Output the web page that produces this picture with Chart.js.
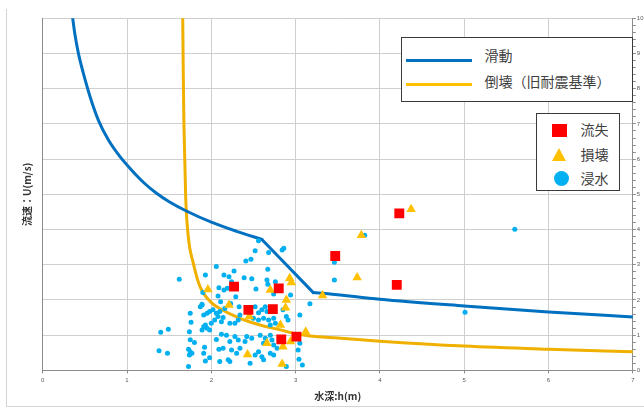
<!DOCTYPE html>
<html>
<head>
<meta charset="utf-8">
<script src="https://cdn.jsdelivr.net/npm/chart.js@4"></script>
<style>
  html, body { margin: 0; padding: 0; background: #fff; }
  #wrap { position: relative; width: 644px; height: 409px; overflow: hidden; }
  canvas { position: absolute; left: 0; top: 0; }
  .frame-v { position: absolute; left: 6px; top: 9px; width: 1px; height: 398px; background: #d4d4d4; }
  .frame-h { position: absolute; left: 6px; top: 406px; width: 638px; height: 1px; background: #d4d4d4; }
  .legend { position: absolute; background: #fff; border: 1.5px solid #3a3a3a; box-sizing: border-box;
            font-family: "Noto Sans CJK JP", sans-serif; font-size: 14px; color: #404040; line-height: 16px; }
  .legend .t { position: absolute; white-space: nowrap; }
  .legend .ln { position: absolute; height: 3.5px; }
</style>
</head>
<body>
<div id="wrap">
  <div class="frame-v"></div>
  <div class="frame-h"></div>
  <canvas id="c" width="644" height="409"></canvas>

  <div class="legend" style="left:400.5px; top:36.5px; width:232px; height:65.5px;">
    <div class="ln" style="left:4px; top:21px; width:66px; background:#0070C0;"></div>
    <div class="t" style="left:83px; top:9px;">滑動</div>
    <div class="ln" style="left:4px; top:45px; width:66px; background:#FFC000;"></div>
    <div class="t" style="left:83px; top:35px;">倒壊（旧耐震基準）</div>
  </div>

  <div class="legend" style="left:535.5px; top:113px; width:84px; height:78px;">
    <div style="position:absolute; left:15.5px; top:9.5px; width:15px; height:13px; background:#FF0000;"></div>
    <div class="t" style="left:44px; top:7px;">流失</div>
    <div style="position:absolute; left:15.5px; top:33.5px; width:0; height:0; border-left:7.5px solid transparent; border-right:7.5px solid transparent; border-bottom:13px solid #FFC000;"></div>
    <div class="t" style="left:44px; top:32px;">損壊</div>
    <div style="position:absolute; left:17px; top:56.5px; width:15px; height:15px; border-radius:50%; background:#00B0F0;"></div>
    <div class="t" style="left:44px; top:56px;">浸水</div>
  </div>
</div>

<script>
// Axis ticks
const depthTicks = [0, 1, 2, 3, 4, 5, 6, 7];
const velocityTicks = [0, 1, 2, 3, 4, 5, 6, 7, 8, 9, 10];

// 滑動 threshold: curved upper branch, straight drop, flat tail (h, U)
const slidingUpper = [
  [0.356, 10.0], [0.383, 9.53], [0.423, 9.01], [0.482, 8.44], [0.561, 7.78],
  [0.66, 7.11], [0.778, 6.55], [0.917, 6.07], [1.05, 5.70], [1.2, 5.33],
  [1.35, 5.03], [1.5, 4.79], [1.71, 4.52], [2.0, 4.21], [2.3, 3.95], [2.6, 3.72]
];
const slidingDrop = [[2.60, 3.72], [3.21, 2.21]];
const slidingTail = [
  [3.21, 2.21], [3.41, 2.17], [4.0, 2.02], [5.0, 1.83], [6.0, 1.66], [7.0, 1.52]
];

// 倒壊（旧耐震基準） threshold curve (h, U)
const collapseCurve = [
  [1.661, 10.0], [1.668, 8.34], [1.676, 6.92], [1.696, 4.93], [1.727, 3.80],
  [1.787, 3.04], [1.866, 2.38], [2.008, 1.91], [2.10, 1.76], [2.34, 1.48],
  [2.58, 1.29], [2.82, 1.15], [3.0, 1.04], [3.17, 0.98], [3.5, 0.92],
  [4.0, 0.83], [5.0, 0.69], [6.0, 0.60], [7.0, 0.53]
];

// 流失 cases
const washedAway = [
  [2.27, 2.38], [2.80, 2.33], [2.44, 1.72], [2.73, 1.74], [2.83, 0.88],
  [3.01, 0.96], [3.47, 3.25], [4.23, 4.46], [4.20, 2.43]
];

// 損壊 cases
const damaged = [
  [2.93, 2.62], [2.95, 2.50], [2.70, 2.28], [2.89, 2.00], [2.88, 1.78],
  [2.21, 1.86], [2.45, 1.53], [3.32, 2.13], [3.12, 1.10], [2.66, 0.77],
  [2.85, 0.67], [2.94, 0.82], [2.43, 0.45], [2.84, 0.18], [3.73, 2.64],
  [3.78, 3.84], [4.37, 4.58], [2.82, 1.29], [1.96, 2.30]
];

// 浸水 cases
const flooded = [
  [2.06, 2.95], [1.93, 2.71], [1.62, 2.59], [2.15, 2.71], [2.09, 2.35],
  [1.90, 2.21], [2.08, 2.11], [2.11, 1.95], [1.89, 1.88],
  [2.52, 3.40], [2.68, 3.35], [2.84, 3.42], [2.86, 3.47], [2.41, 3.11],
  [2.47, 3.16], [2.67, 2.87], [2.27, 2.82], [2.21, 2.66], [2.39, 2.63],
  [2.48, 2.60], [2.66, 2.57], [2.67, 2.45], [2.24, 2.52], [2.19, 2.33],
  [2.15, 2.28], [2.53, 2.31], [2.76, 2.52], [2.74, 2.17], [2.29, 2.09],
  [2.94, 2.14], [3.17, 1.89], [2.23, 1.90], [2.33, 1.81], [2.56, 3.68],
  [5.60, 4.01], [3.82, 3.84], [3.46, 3.07], [3.46, 2.57], [5.01, 1.65],
  [1.87, 1.81], [1.89, 1.86], [1.75, 1.62], [1.91, 1.57], [1.95, 1.62],
  [1.98, 1.67], [2.02, 1.72], [2.06, 1.62], [2.10, 1.67], [1.76, 1.37],
  [1.93, 1.29], [1.91, 1.24], [1.89, 1.15], [1.95, 1.20], [1.98, 1.15],
  [2.00, 1.34], [2.04, 1.43], [2.12, 1.38], [2.08, 1.53], [2.14, 1.50],
  [1.40, 1.08], [1.49, 1.17], [1.74, 1.10], [2.12, 1.03], [1.80, 0.79],
  [2.06, 0.88], [1.38, 0.56], [1.48, 0.49], [1.73, 0.60], [1.75, 0.53],
  [1.77, 0.49], [1.74, 0.44], [1.91, 0.49], [1.92, 0.66], [2.09, 0.60],
  [1.98, 0.36], [1.93, 0.27], [1.73, 0.11], [1.75, 0.87],
  [2.16, 1.76], [2.22, 1.34], [2.34, 1.57], [2.32, 1.43], [2.28, 1.34],
  [2.52, 1.81], [2.56, 1.64], [2.60, 1.72], [2.64, 1.81], [2.66, 1.67],
  [2.50, 1.48], [2.56, 1.43], [2.62, 1.48], [2.68, 1.43], [2.74, 1.48],
  [2.70, 1.29], [2.76, 1.34], [2.85, 1.72], [2.89, 1.53], [2.91, 1.43],
  [3.05, 1.57], [2.18, 1.00], [2.28, 0.96], [2.22, 0.82], [2.32, 0.86],
  [2.42, 0.96], [2.48, 0.91], [2.40, 0.82], [2.58, 1.00], [2.64, 0.91],
  [2.70, 1.00], [2.72, 0.86], [2.62, 0.77], [2.74, 0.72], [2.78, 0.63],
  [3.05, 0.77], [3.03, 0.58], [2.14, 0.63], [2.24, 0.58], [2.34, 0.63],
  [2.30, 0.49], [2.56, 0.53], [2.52, 0.44], [2.60, 0.39], [2.70, 0.49],
  [2.74, 0.44], [2.20, 0.30], [2.22, 0.25], [2.46, 0.20], [2.62, 0.30],
  [2.89, 0.11], [3.04, 0.32], [2.10, 0.25], [3.08, 0.15]
];

const toXY = arr => arr.map(([x, y]) => ({ x, y }));
const tickFont = { family: 'Liberation Sans', size: 6 };
const titleFont = { family: 'Noto Sans CJK JP', size: 10, weight: 'bold' };
const gridColor = '#cfcfcf';
const axisColor = '#8c8c8c';
const slideColor = '#0070C0';
const collapseColor = '#EFB000';

// curved: monotone cubic through the points; otherwise straight segments
function thresholdLine(label, points, color, curved) {
  return {
    label, data: toXY(points), showLine: true, pointRadius: 0, borderWidth: 3,
    borderColor: color, fill: false, borderCapStyle: 'round', borderJoinStyle: 'round',
    cubicInterpolationMode: curved ? 'monotone' : 'default', tension: 0
  };
}

new Chart(document.getElementById('c'), {
  type: 'scatter',
  data: {
    datasets: [
      { label: '流失', data: toXY(washedAway), pointStyle: 'rect', pointRadius: 7,
        backgroundColor: '#FF0000', borderWidth: 0 },
      { label: '損壊', data: toXY(damaged), pointStyle: 'triangle', pointRadius: 5.5,
        backgroundColor: '#FFC000', borderWidth: 0 },
      { label: '浸水', data: toXY(flooded), pointStyle: 'circle', pointRadius: 2.5,
        backgroundColor: '#00B0F0', borderWidth: 0 },
      thresholdLine('滑動', slidingUpper, slideColor, true),
      thresholdLine('滑動', slidingDrop, slideColor, false),
      thresholdLine('滑動', slidingTail, slideColor, true),
      thresholdLine('倒壊（旧耐震基準）', collapseCurve, collapseColor, true)
    ]
  },
  options: {
    responsive: false,
    animation: false,
    devicePixelRatio: 1,
    layout: { padding: { top: 18.3, left: 0, right: 0, bottom: 0 } },
    plugins: { legend: { display: false }, tooltip: { enabled: false } },
    scales: {
      x: {
        type: 'linear', position: 'bottom', min: 0, max: depthTicks[depthTicks.length - 1],
        afterBuildTicks: s => { s.ticks = depthTicks.map(v => ({ value: v })); },
        ticks: { font: tickFont, color: '#595959', padding: 3, maxRotation: 0 },
        grid: { color: gridColor, lineWidth: 1, tickLength: 3, tickColor: axisColor },
        border: { color: axisColor, width: 1 },
        title: { display: true, text: '水深:h(m)', font: titleFont, color: '#333',
                 padding: { top: 0, bottom: 7 } },
        afterFit: s => { s.height = 38.6; }
      },
      y: {
        type: 'linear', position: 'left', min: 0, max: velocityTicks[velocityTicks.length - 1],
        afterBuildTicks: s => { s.ticks = velocityTicks.map(v => ({ value: v })); },
        ticks: { display: false },
        grid: { color: gridColor, lineWidth: 1, drawTicks: false },
        border: { color: axisColor, width: 1 },
        title: { display: true, text: '流速：U(m/s)', font: titleFont, color: '#333',
                 padding: { top: 21, bottom: 0 } },
        afterFit: s => { s.width = 42.7; }
      },
      y2: {
        type: 'linear', position: 'right', min: 0, max: velocityTicks[velocityTicks.length - 1],
        ticks: { stepSize: 0.2, maxTicksLimit: 100, autoSkip: false, font: tickFont, color: '#595959',
                 padding: 1,
                 callback: v => (Math.abs(v - Math.round(v)) < 1e-6 ? String(Math.round(v)) : '') },
        grid: { drawOnChartArea: false, tickLength: 3, color: axisColor },
        border: { color: axisColor, width: 1 },
        afterFit: s => { s.width = 11.2; }
      }
    }
  }
});
</script>
</body>
</html>
